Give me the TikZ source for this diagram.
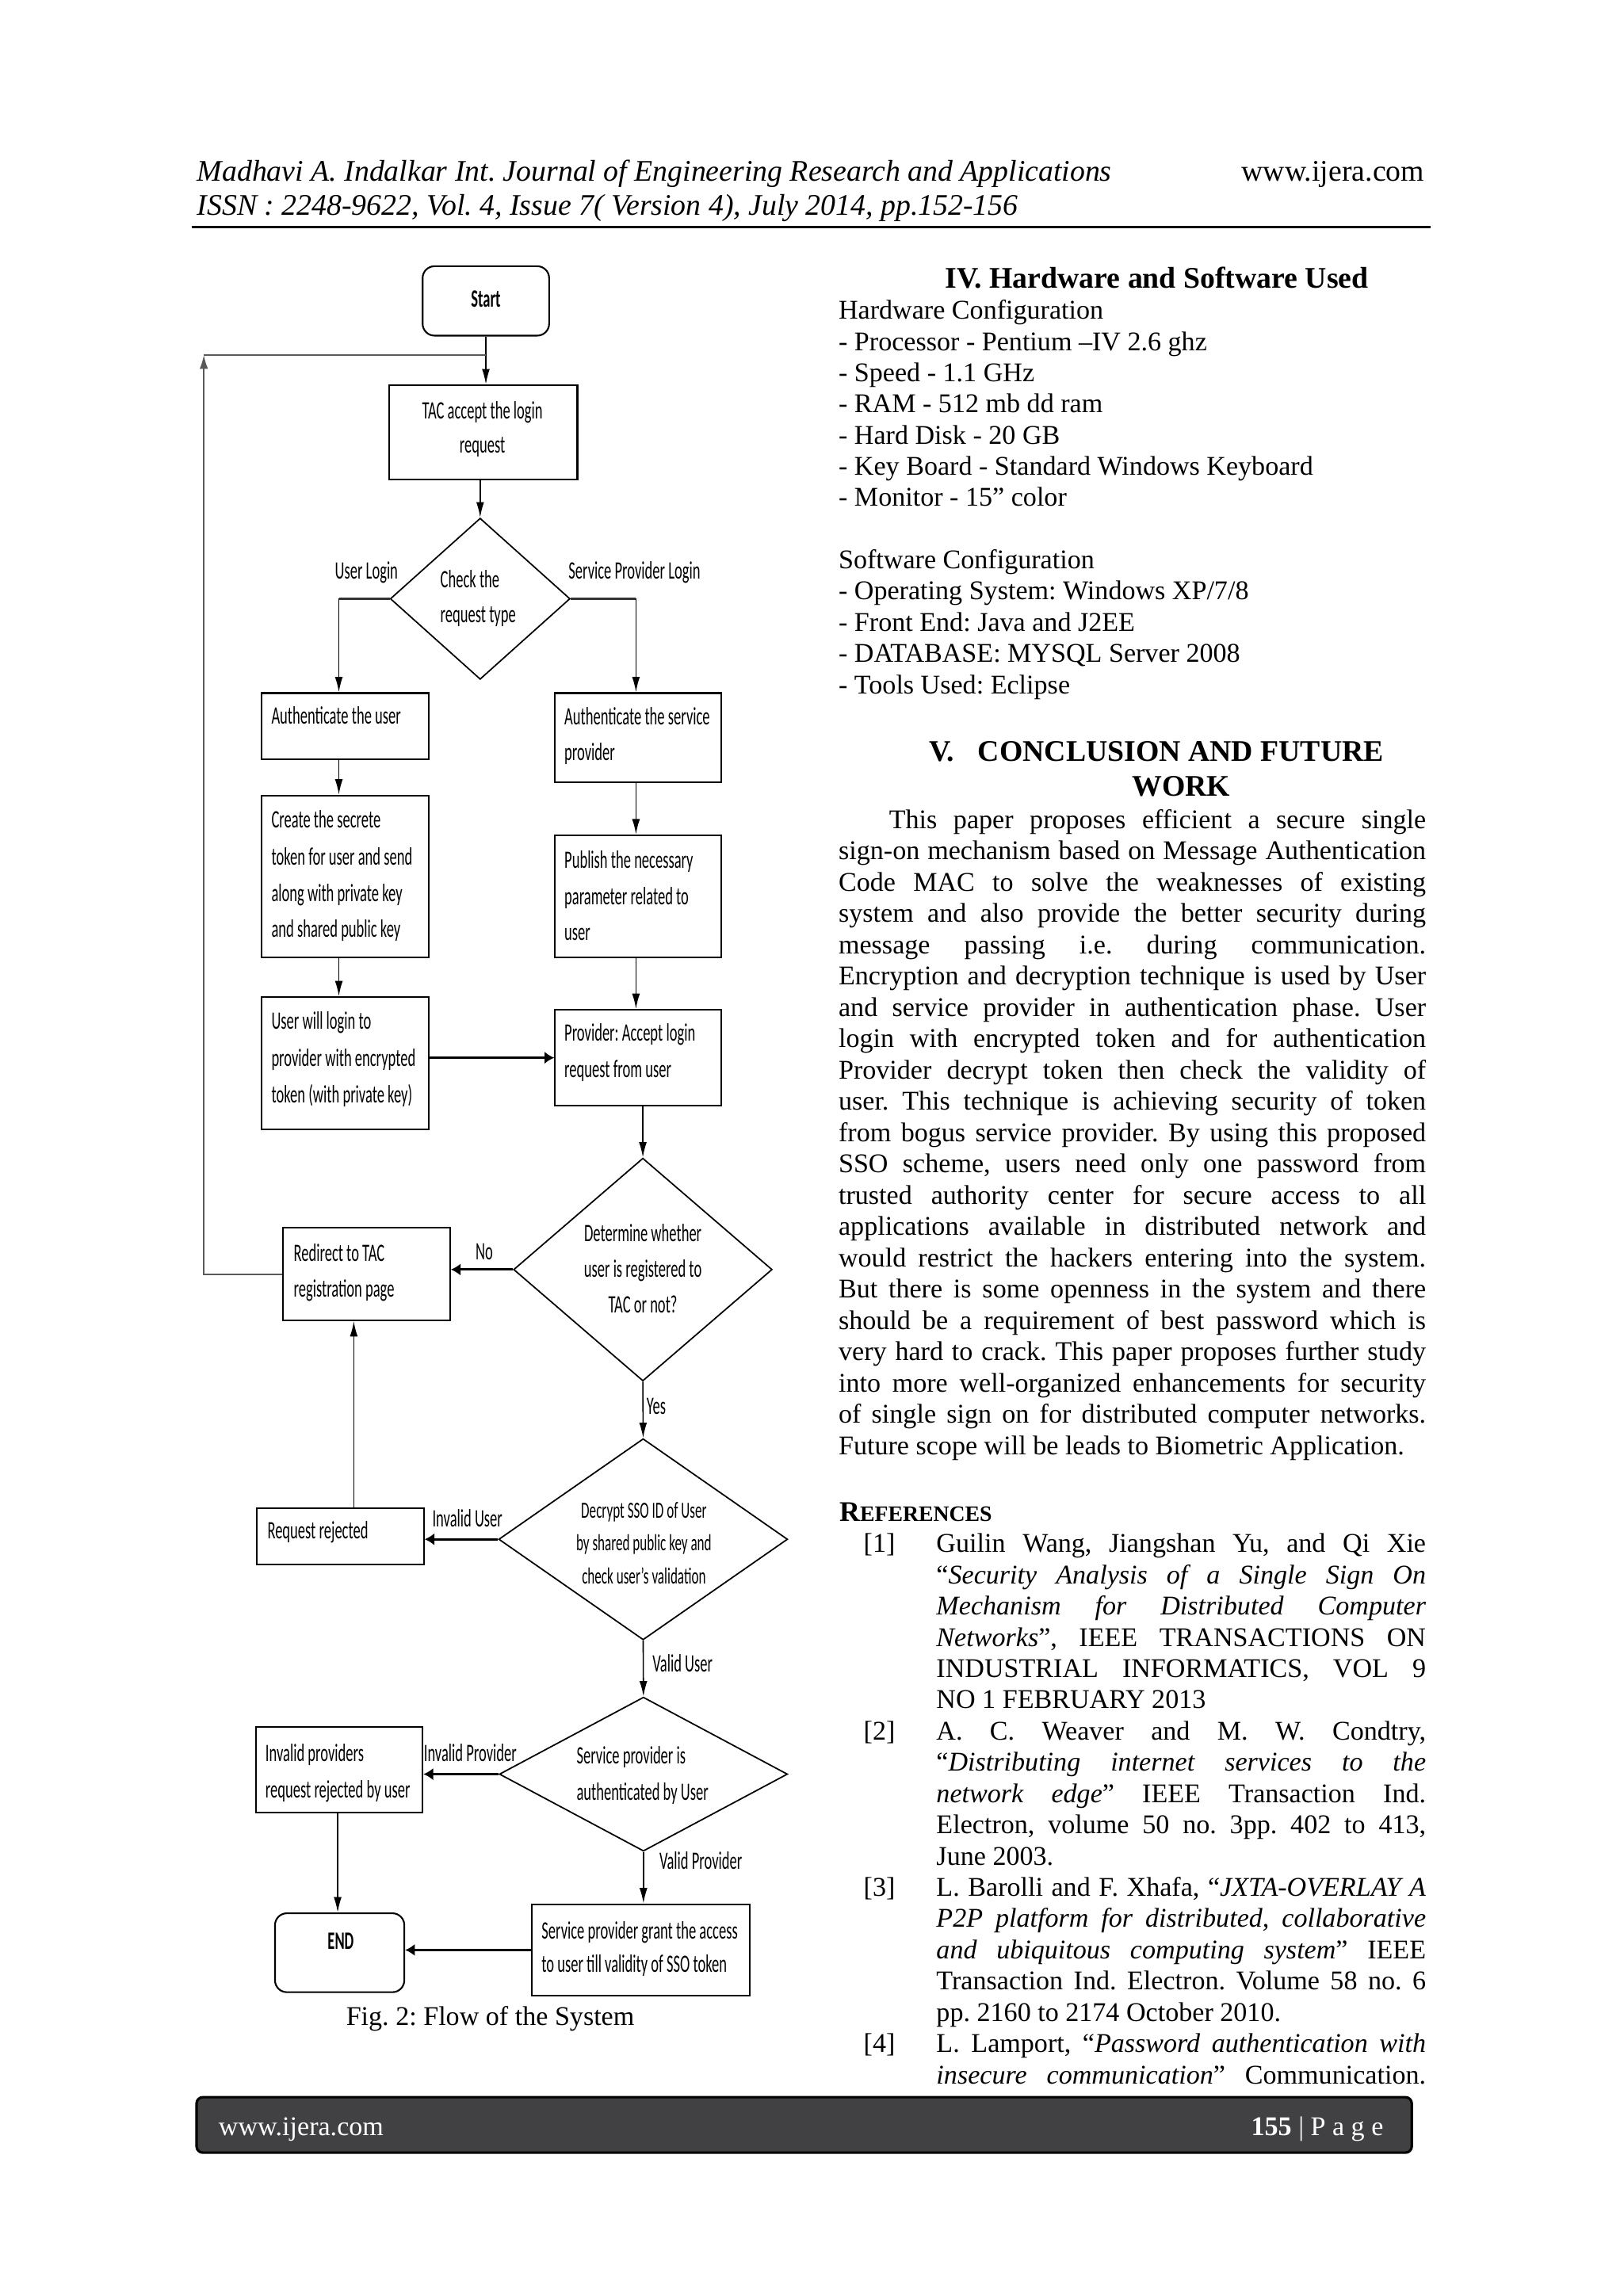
\documentclass[tikz,border=0pt]{standalone}
\usepackage{fontspec}
\setmainfont{Liberation Serif}
\newfontfamily\flfont[FakeStretch=0.586]{Carlito}
\usetikzlibrary{shapes.geometric,arrows.meta,calc}
\frenchspacing
\def\myu{0.018484cm}
\newcommand\mkbox[6]{\node[#6, minimum width={(#4-#2)*\myu}, minimum height={(#5-#3)*\myu}] (#1) at ({(#2+#4)/2},{(#3+#5)/2}) {};}
\newcommand\mkdia[5]{\node[dia, minimum width={#4*\myu}, minimum height={#5*\myu}] (#1) at (#2,#3) {};}
\newcommand\jline[5]{\node[bt] (#1) at (#2,#3) {\makebox[#4][s]{#5}};}
\tikzset{
 bx/.style={draw, line width=0.6pt, inner sep=0, rectangle},
 rbx/.style={bx, rounded corners=0.15cm},
 dia/.style={draw, diamond, line width=0.5pt, inner sep=0},
 vc/.style={line width=0.45pt, -{Latex[length=5.5pt,width=2.8pt]}},
 hc/.style={line width=0.9pt, -{Latex[length=3.5pt,width=4.4pt]}},
 hl/.style={line width=0.9pt, black!80},
 lpl/.style={line width=0.6pt, black!65},
 ft/.style={inner sep=0, font=\flfont\frenchspacing\fontsize{9}{10}\selectfont, anchor=base west},
 fts/.style={inner sep=0, font=\flfont\frenchspacing\fontsize{8.3}{9}\selectfont, anchor=base},
 ftb/.style={inner sep=0, font=\flfont\bfseries\fontsize{9}{10}\selectfont, anchor=base},
 bt/.style={inner sep=0, font=\frenchspacing\fontsize{9.7}{11}\selectfont, anchor=base west},
 hd/.style={inner sep=0, font=\bfseries\fontsize{10.75}{12}\selectfont, anchor=base west},
}
\begin{document}
\begin{tikzpicture}[x=0.018484cm, y=-0.018484cm]
\fill[white] (0,0) rectangle (1108.5,1568);
\useasboundingbox (0,0) rectangle (1108.5,1568);

% ---------- header ----------
\node[inner sep=0, anchor=base west, font=\fontsize{10.75}{12}\selectfont\itshape] (h1) at (134.3,123.5) {Madhavi A. Indalkar Int. Journal of Engineering Research and Applications};
\node[inner sep=0, anchor=base east, font=\fontsize{10.75}{12}\selectfont] (h1r) at (973,123.5) {www.ijera.com};
\node[inner sep=0, anchor=base west, font=\fontsize{10.75}{12}\selectfont\itshape] (h2) at (134.3,147) {ISSN : 2248-9622, Vol. 4, Issue 7( Version 4), July 2014, pp.152-156};
\coordinate (rl) at (131,155.1);
\coordinate (rr) at (977,155.1);
\draw[line width=0.85pt] (rl) -- (rr);

% ---------- flowchart boxes ----------
\mkbox{start}{288.6}{181.8}{375}{229.2}{rbx}
\mkbox{tac}{265.9}{263}{394.3}{327.3}{bx}
\mkdia{d1}{327.9}{408.9}{122.8}{110.1}
\mkbox{authu}{178.7}{473.3}{292.7}{518.4}{bx}
\mkbox{authsp}{379.1}{473.3}{492.3}{534.3}{bx}
\mkbox{create}{178.7}{543.2}{292.7}{653.8}{bx}
\mkbox{publish}{379.1}{570.4}{492.3}{653.8}{bx}
\mkbox{userlog}{178.7}{680.9}{292.7}{771.3}{bx}
\mkbox{prov}{379.1}{689.6}{492.3}{755.1}{bx}
\mkdia{d2}{439}{867}{176.6}{152.2}
\mkbox{redirect}{193.3}{838.6}{307.3}{901.7}{bx}
\mkdia{d3}{439.2}{1051.2}{197.3}{137.4}
\mkbox{reqrej}{175.4}{1030.1}{289.4}{1068.4}{bx}
\mkdia{d4}{439.4}{1211.6}{196.8}{105.2}
\mkbox{invprov}{174.6}{1179.3}{288.6}{1237.7}{bx}
\mkbox{spgrant}{363.1}{1300.4}{512.1}{1363}{bx}
\mkbox{endn}{187.8}{1306.6}{276.1}{1360.5}{rbx}

% ---------- connectors ----------
\coordinate (lpc) at (139.2,242.3);
\coordinate (b1) at (231.4,408.9);
\coordinate (b2) at (434.3,408.9);
\coordinate (b3) at (241.6,1000);
\coordinate (b4) at (230.6,1250);
\draw[vc] (start.south) -- (tac.north -| start.south);
\draw[lpl, -{Latex[length=5pt,width=3pt]}] (redirect.west) -| (lpc);
\draw[lpl] (lpc) -- (lpc -| start.south);
\draw[vc] (tac.south -| d1.north) -- (d1.north);
\draw[hl] (d1.west) -- (b1);
\draw[vc] (b1) -- (b1 |- authu.north);
\draw[hl] (d1.east) -- (b2);
\draw[vc] (b2) -- (b2 |- authsp.north);
\draw[vc] (b1 |- authu.south) -- (b1 |- create.north);
\draw[vc] (b1 |- create.south) -- (b1 |- userlog.north);
\draw[hc] (userlog.east |- prov.west) -- (prov.west);
\draw[vc] (b2 |- authsp.south) -- (b2 |- publish.north);
\draw[vc] (b2 |- publish.south) -- (b2 |- prov.north);
\draw[vc] (prov.south -| d2.north) -- (d2.north);
\draw[hc] (d2.west) -- (d2.west -| redirect.east);
\draw[vc] (d2.south) -- (d3.north);
\draw[hc] (d3.west) -- (d3.west -| reqrej.east);
\draw[vc] (reqrej.north -| b3) -- (redirect.south -| b3);
\draw[vc] (d3.south) -- (d4.north);
\draw[hc] (d4.west) -- (d4.west -| invprov.east);
\draw[vc] (invprov.south -| b4) -- (endn.north -| b4);
\draw[vc] (d4.south) -- (d4.south |- spgrant.north);
\draw[hc] (spgrant.west) -- (spgrant.west -| endn.east);

% ---------- flowchart texts ----------
\node[ftb] (tStart) at (331.8,209.9) {Start};
\node[ft, anchor=base] (tTac1) at (329.4,285.8) {TAC accept the login};
\node[ft, anchor=base] (tTac2) at (329.4,309.3) {request};
\node[ft] (tChk1) at (300.4,401.1) {Check the};
\node[ft] (tChk2) at (300.4,425.3) {request type};
\node[ft] (lUL) at (228.4,395.3) {User Login};
\node[ft] (lSPL) at (387.9,395.3) {Service Provider Login};
\node[ft] (tAu) at (185,494.3) {Authenticate the user};
\node[ft] (tAs1) at (385.1,495.2) {Authenticate the service};
\node[ft] (tAs2) at (385.1,519.4) {provider};
\node[ft] (tCr1) at (185,565.4) {Create the secrete};
\node[ft] (tCr2) at (185,590.9) {token for user and send};
\node[ft] (tCr3) at (185,615.4) {along with private key};
\node[ft] (tCr4) at (185,640.1) {and shared public key};
\node[ft] (tPu1) at (385.1,592.8) {Publish the necessary};
\node[ft] (tPu2) at (385.1,617.9) {parameter related to};
\node[ft] (tPu3) at (385.1,642.1) {user};
\node[ft] (tUl1) at (185,702.6) {User will login to};
\node[ft] (tUl2) at (185,728) {provider with encrypted};
\node[ft] (tUl3) at (185,753.1) {token (with private key)};
\node[ft] (tPr1) at (385.1,710.7) {Provider: Accept login};
\node[ft] (tPr2) at (385.1,735.8) {request from user};
\node[ft] (tRd1) at (200.2,861.4) {Redirect to TAC};
\node[ft] (tRd2) at (200.2,885.8) {registration page};
\node[ft] (lNo) at (324.4,860.4) {No};
\node[ft, anchor=base] (tDt1) at (439,847.9) {Determine whether};
\node[ft, anchor=base] (tDt2) at (439,872.1) {user is registered to};
\node[ft, anchor=base] (tDt3) at (439,896.6) {TAC or not?};
\node[ft] (lYes) at (441.2,966) {Yes};
\node[ft] (tRr) at (182.3,1050.8) {Request rejected};
\node[ft] (lIU) at (294.9,1042.6) {Invalid User};
\node[fts] (tDc1) at (439.7,1036.9) {Decrypt SSO ID of User};
\node[fts] (tDc2) at (439.7,1059.1) {by shared public key and};
\node[fts] (tDc3) at (439.7,1081.9) {check user’s validation};
\node[ft] (lVU) at (445.3,1142) {Valid User};
\node[ft] (tIp1) at (180.9,1203.1) {Invalid providers};
\node[ft] (tIp2) at (180.9,1227.9) {request rejected by user};
\node[ft] (lIP) at (289.1,1203.1) {Invalid Provider};
\node[ft] (tSp1) at (393.4,1204.6) {Service provider is};
\node[ft] (tSp2) at (393.4,1229.5) {authenticated by User};
\node[ft] (lVP) at (450,1276.6) {Valid Provider};
\node[ft] (tSg1) at (369.5,1324) {Service provider grant the access};
\node[ft] (tSg2) at (369.5,1347.1) {to user till validity of SSO token};
\node[ftb] (tEnd) at (232.7,1331.1) {END};
\node[bt, anchor=base] (cap) at (334.8,1383.3) {Fig. 2: Flow of the System};

% ---------- right column: section IV ----------
\node[hd, anchor=base] (hIV) at (790,196.7) {IV. Hardware and Software Used};
\node[bt] (r1) at (572.3,218) {Hardware Configuration};
\node[bt] (r2) at (572.3,239.3) {- Processor - Pentium –IV 2.6 ghz};
\node[bt] (r3) at (572.3,260.6) {- Speed - 1.1 GHz};
\node[bt] (r4) at (572.3,281.9) {- RAM - 512 mb dd ram};
\node[bt] (r5) at (572.3,303.2) {- Hard Disk - 20 GB};
\node[bt] (r6) at (572.3,324.5) {- Key Board - Standard Windows Keyboard};
\node[bt] (r7) at (572.3,345.8) {- Monitor - 15” color};
\node[bt] (s1) at (572.3,388.4) {Software Configuration};
\node[bt] (s2) at (572.3,409.7) {- Operating System: Windows XP/7/8};
\node[bt] (s3) at (572.3,431) {- Front End: Java and J2EE};
\node[bt] (s4) at (572.3,452.3) {- DATABASE: MYSQL Server 2008};
\node[bt] (s5) at (572.3,473.6) {- Tools Used: Eclipse};

% ---------- section V ----------
\node[hd] (hV) at (634,520) {V.};
\node[hd] (hV2) at (667.4,520) {CONCLUSION AND FUTURE};
\node[hd] (hW) at (772.8,543.7) {WORK};
\jline{p1}{606.8}{565.7}{6.775cm}{This paper proposes efficient a secure single}
\jline{p2}{572.3}{587.1}{7.412cm}{sign-on mechanism based on Message Authentication}
\jline{p3}{572.3}{608.5}{7.412cm}{Code MAC to solve the weaknesses of existing}
\jline{p4}{572.3}{629.9}{7.412cm}{system and also provide the better security during}
\jline{p5}{572.3}{651.2}{7.412cm}{message passing i.e. during communication.}
\jline{p6}{572.3}{672.6}{7.412cm}{Encryption and decryption technique is used by User}
\jline{p7}{572.3}{694.0}{7.412cm}{and service provider in authentication phase. User}
\jline{p8}{572.3}{715.4}{7.412cm}{login with encrypted token and for authentication}
\jline{p9}{572.3}{736.8}{7.412cm}{Provider decrypt token then check the validity of}
\jline{p10}{572.3}{758.2}{7.412cm}{user. This technique is achieving security of token}
\jline{p11}{572.3}{779.6}{7.412cm}{from bogus service provider. By using this proposed}
\jline{p12}{572.3}{800.9}{7.412cm}{SSO scheme, users need only one password from}
\jline{p13}{572.3}{822.3}{7.412cm}{trusted authority center for secure access to all}
\jline{p14}{572.3}{843.7}{7.412cm}{applications available in distributed network and}
\jline{p15}{572.3}{865.1}{7.412cm}{would restrict the hackers entering into the system.}
\jline{p16}{572.3}{886.5}{7.412cm}{But there is some openness in the system and there}
\jline{p17}{572.3}{907.9}{7.412cm}{should be a requirement of best password which is}
\jline{p18}{572.3}{929.2}{7.412cm}{very hard to crack. This paper proposes further study}
\jline{p19}{572.3}{950.6}{7.412cm}{into more well-organized enhancements for security}
\jline{p20}{572.3}{972.0}{7.412cm}{of single sign on for distributed computer networks.}
\node[bt] (p21) at (572.3,993.4) {Future scope will be leads to Biometric Application.};

% ---------- references ----------
\node[inner sep=0, anchor=base west, font=\bfseries] (hRef) at (572.9,1038.8) {{\fontsize{10.2}{12}\selectfont R}{\fontsize{7.9}{10}\selectfont EFERENCES}};
\node[bt] (k1) at (589.4,1060.1) {[1]};
\jline{q1}{639.1}{1060.1}{6.177cm}{Guilin Wang, Jiangshan Yu, and Qi Xie}
\jline{q2}{639.1}{1081.5}{6.177cm}{“\textit{Security Analysis of a Single Sign On}}
\jline{q3}{639.1}{1102.8}{6.177cm}{\textit{Mechanism for Distributed Computer}}
\jline{q4}{639.1}{1124.2}{6.177cm}{\textit{Networks}”, IEEE TRANSACTIONS ON}
\jline{q5}{639.1}{1145.5}{6.177cm}{INDUSTRIAL INFORMATICS, VOL 9}
\node[bt] (q6) at (639.1,1166.9) {NO 1 FEBRUARY 2013};
\node[bt] (k2) at (589.4,1188.2) {[2]};
\jline{q7}{639.1}{1188.2}{6.177cm}{A. C. Weaver and M. W. Condtry,}
\jline{q8}{639.1}{1209.6}{6.177cm}{“\textit{Distributing internet services to the}}
\jline{q9}{639.1}{1230.9}{6.177cm}{\textit{network edge}” IEEE Transaction Ind.}
\jline{q10}{639.1}{1252.3}{6.177cm}{Electron, volume 50 no. 3pp. 402 to 413,}
\node[bt] (q11) at (639.1,1273.6) {June 2003.};
\node[bt] (k3) at (589.4,1295.0) {[3]};
\jline{q12}{639.1}{1295.0}{6.177cm}{L. Barolli and F. Xhafa, “\textit{JXTA-OVERLAY A}}
\jline{q13}{639.1}{1316.3}{6.177cm}{\textit{P2P platform for distributed, collaborative}}
\jline{q14}{639.1}{1337.7}{6.177cm}{\textit{and ubiquitous computing system}” IEEE}
\jline{q15}{639.1}{1359.0}{6.177cm}{Transaction Ind. Electron. Volume 58 no. 6}
\node[bt] (q16) at (639.1,1380.4) {pp. 2160 to 2174 October 2010.};
\node[bt] (k4) at (589.4,1401.7) {[4]};
\jline{q17}{639.1}{1401.7}{6.177cm}{L. Lamport, “\textit{Password authentication with}}
\jline{q18}{639.1}{1423.1}{6.177cm}{\textit{insecure communication}” Communication.}

% ---------- footer ----------
\definecolor{footgray}{HTML}{414042}
\mkbox{foot}{134.2}{1432.2}{964.1}{1470.1}{draw=black, line width=0.9pt, fill=footgray, rounded corners=0.08cm, inner sep=0}
\node[bt, text=white] (fl) at (149,1458.6) {www.ijera.com};
\node[bt, text=white, anchor=base east] (fr) at (945.1,1458.6) {\textbf{155} | P a g e};
\end{tikzpicture}
\end{document}
